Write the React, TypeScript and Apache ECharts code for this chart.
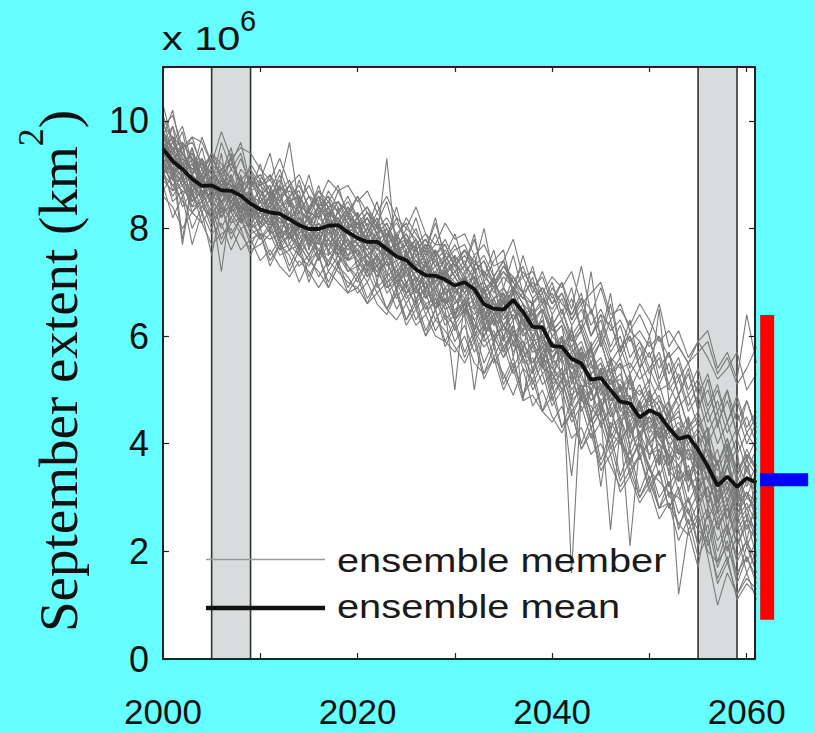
import React, { useEffect, useRef } from "react";
import * as echarts from "echarts";

// Years of the simulation, 2000 through 2061
const years: number[] = [];
for (let y = 2000; y <= 2061; y++) years.push(y);

// September sea-ice extent, ensemble mean (x 10^6 km^2)
const ensembleMean = [
  9.48, 9.25, 9.1, 8.92, 8.79, 8.8, 8.71, 8.7, 8.61, 8.46,
  8.35, 8.3, 8.27, 8.17, 8.06, 7.99, 7.99, 8.05, 8.06, 7.93,
  7.82, 7.75, 7.75, 7.62, 7.48, 7.41, 7.24, 7.13, 7.12, 7.05,
  6.94, 7.0, 6.87, 6.59, 6.51, 6.49, 6.67, 6.45, 6.17, 6.16,
  5.82, 5.8, 5.58, 5.49, 5.19, 5.22, 5.0, 4.78, 4.75, 4.49,
  4.62, 4.54, 4.29, 4.09, 4.14, 3.89, 3.58, 3.22, 3.39, 3.2,
  3.36, 3.28,
];

// Individual ensemble members (x 10^6 km^2)
const ensembleMembers: number[][] = [
  [10.3, 9.6, 9.9, 9.2, 9.0, 9.4, 8.9, 9.3, 8.8, 8.9, 8.6, 9.0, 8.5, 8.8, 8.3, 8.6, 8.2, 8.7, 8.4, 8.1, 8.3, 7.9, 8.2, 7.7, 7.9, 7.5, 7.8, 7.3, 7.6, 7.2, 7.4, 7.1, 7.5, 6.9, 7.0, 6.6, 7.1, 6.8, 6.4, 6.7, 6.2, 6.5, 5.9, 6.1, 5.6, 5.9, 5.3, 5.5, 5.1, 4.9, 5.2, 4.8, 4.6, 4.9, 4.3, 4.5, 3.9, 3.6, 4.1, 3.5, 3.8, 3.6],
  [9.0, 8.8, 8.5, 8.3, 8.6, 8.1, 8.4, 7.9, 8.2, 8.0, 7.8, 8.0, 7.6, 7.7, 7.5, 7.3, 7.6, 7.4, 7.7, 7.2, 7.3, 7.0, 7.4, 6.9, 7.1, 6.7, 6.9, 6.5, 6.8, 6.3, 6.5, 6.6, 6.2, 6.0, 6.3, 5.8, 6.1, 5.7, 5.5, 5.9, 5.2, 5.4, 4.9, 5.1, 4.6, 4.8, 4.3, 4.5, 4.0, 4.2, 3.8, 4.0, 3.5, 3.6, 3.2, 3.4, 2.9, 2.5, 2.8, 2.3, 2.6, 2.4],
  [9.6, 9.3, 7.8, 8.9, 8.5, 9.0, 8.6, 8.9, 8.3, 8.7, 8.1, 8.5, 8.0, 8.6, 7.9, 8.2, 7.7, 8.3, 7.8, 8.0, 7.5, 7.9, 7.4, 7.8, 7.1, 7.6, 7.0, 7.4, 6.8, 7.3, 6.7, 7.2, 6.5, 6.9, 6.2, 6.8, 6.3, 6.6, 5.9, 6.4, 5.5, 6.0, 5.2, 5.8, 4.9, 5.4, 4.7, 5.1, 4.4, 4.8, 4.2, 4.7, 3.9, 4.3, 3.7, 4.0, 3.3, 3.7, 2.9, 3.4, 3.0, 3.5],
  [9.4, 9.1, 9.3, 8.7, 9.0, 8.4, 7.2, 8.5, 8.8, 8.2, 8.5, 8.1, 8.4, 7.9, 8.2, 7.8, 8.3, 7.9, 8.0, 7.7, 7.9, 7.5, 7.7, 7.3, 7.6, 7.1, 7.3, 7.0, 7.2, 6.8, 6.9, 6.7, 7.0, 6.4, 6.6, 6.2, 6.5, 6.1, 6.3, 5.8, 5.9, 5.6, 5.8, 5.3, 5.5, 4.9, 5.2, 4.6, 4.9, 4.3, 4.6, 4.2, 4.4, 3.8, 4.0, 3.6, 3.7, 2.9, 3.3, 2.8, 3.1, 2.7],
  [9.8, 9.4, 9.1, 9.5, 8.9, 9.1, 8.8, 9.0, 8.6, 8.9, 8.7, 8.5, 8.8, 9.6, 8.4, 8.3, 8.6, 8.2, 8.5, 8.1, 8.0, 8.3, 7.9, 8.1, 7.7, 7.8, 7.5, 7.6, 7.3, 7.4, 7.1, 7.3, 6.9, 7.0, 6.7, 6.9, 6.6, 6.8, 6.3, 6.5, 6.0, 6.2, 5.7, 5.9, 5.4, 5.6, 5.1, 5.3, 4.8, 5.0, 4.7, 4.9, 4.4, 4.6, 4.0, 4.3, 3.8, 3.5, 3.9, 3.3, 3.7, 3.4],
  [9.2, 9.5, 9.0, 9.2, 8.7, 8.6, 9.0, 8.5, 8.7, 8.3, 8.4, 8.6, 8.1, 8.3, 7.8, 8.1, 7.9, 8.4, 8.0, 8.3, 7.7, 8.0, 7.8, 9.3, 7.5, 7.7, 7.3, 7.5, 7.0, 7.2, 6.8, 7.1, 6.7, 6.9, 6.4, 6.6, 6.8, 6.2, 6.4, 6.0, 5.7, 5.9, 5.4, 5.6, 5.0, 5.4, 4.8, 5.0, 4.6, 4.7, 4.4, 4.5, 4.1, 4.3, 3.9, 3.8, 3.5, 3.1, 3.6, 3.0, 3.4, 3.1],
  [9.1, 8.9, 8.7, 8.6, 8.3, 7.5, 8.4, 8.2, 8.5, 8.0, 8.2, 7.9, 8.0, 7.6, 7.9, 7.5, 7.8, 7.6, 7.3, 7.7, 7.4, 7.2, 7.5, 7.0, 7.2, 6.9, 6.6, 6.9, 6.5, 6.7, 6.3, 6.6, 6.0, 6.4, 5.9, 6.2, 6.0, 5.6, 5.8, 5.4, 5.3, 5.0, 5.2, 4.8, 4.7, 4.4, 4.6, 4.1, 4.3, 3.8, 4.0, 3.6, 3.9, 3.3, 3.5, 3.0, 3.2, 2.6, 2.9, 2.4, 2.7, 2.2],
  [9.5, 9.2, 9.4, 9.0, 8.8, 8.9, 8.5, 8.7, 8.4, 8.6, 8.3, 8.4, 8.0, 8.2, 7.7, 8.0, 7.8, 8.1, 7.9, 7.6, 7.8, 7.6, 7.3, 7.5, 7.2, 7.4, 7.1, 6.9, 7.0, 6.6, 6.8, 7.0, 6.6, 6.3, 6.5, 6.1, 6.4, 6.2, 5.9, 6.0, 5.5, 5.6, 1.6, 5.0, 5.3, 4.7, 4.9, 4.4, 4.6, 4.2, 4.3, 4.0, 3.8, 3.6, 3.9, 3.2, 3.4, 2.8, 3.1, 2.6, 2.9, 2.5],
  [9.7, 9.3, 9.2, 8.8, 9.1, 8.7, 8.9, 8.6, 8.8, 8.5, 8.7, 8.3, 8.6, 8.2, 8.4, 8.1, 8.3, 8.5, 8.1, 8.4, 8.0, 7.8, 8.1, 7.7, 7.9, 7.6, 7.8, 7.4, 7.6, 7.3, 7.5, 7.2, 7.4, 7.1, 6.9, 7.2, 7.0, 6.8, 6.6, 6.9, 6.4, 6.7, 6.2, 6.5, 6.0, 6.3, 5.7, 6.0, 5.4, 5.8, 5.3, 5.6, 5.0, 5.3, 4.7, 5.1, 4.4, 4.8, 4.2, 4.6, 4.0, 4.4],
  [9.3, 9.6, 9.2, 9.4, 9.1, 9.3, 9.0, 9.2, 8.9, 9.1, 8.8, 9.0, 8.7, 8.9, 8.5, 8.8, 8.4, 8.6, 8.3, 8.5, 8.2, 8.4, 8.0, 8.2, 7.9, 8.1, 7.7, 7.9, 7.5, 7.8, 7.4, 7.6, 7.3, 8.0, 7.1, 7.4, 7.0, 7.3, 6.8, 7.2, 6.7, 7.0, 6.5, 7.3, 6.4, 6.9, 6.3, 6.6, 6.1, 6.4, 6.0, 6.6, 5.8, 6.1, 5.6, 5.9, 6.1, 5.4, 5.7, 5.2, 6.4, 5.5],
  [9.0, 9.2, 8.8, 8.5, 8.7, 8.3, 8.5, 8.1, 8.4, 7.9, 8.0, 8.2, 7.7, 7.9, 7.5, 7.8, 7.4, 7.7, 7.5, 7.2, 7.4, 7.1, 7.3, 6.8, 7.0, 6.6, 6.9, 6.4, 6.7, 6.2, 6.4, 6.6, 6.1, 5.8, 6.0, 5.6, 5.9, 5.4, 5.2, 5.6, 4.9, 5.2, 4.6, 4.9, 4.3, 4.6, 3.9, 4.2, 3.5, 3.8, 3.2, 3.5, 2.8, 3.1, 2.4, 2.7, 1.9, 1.0, 1.6, 1.2, 1.5, 1.3],
  [9.6, 9.1, 9.0, 9.3, 8.6, 8.8, 8.6, 9.4, 8.5, 8.3, 8.6, 8.2, 8.4, 8.0, 8.3, 7.7, 8.1, 7.9, 8.2, 7.8, 7.6, 7.9, 7.5, 7.7, 7.3, 7.5, 7.0, 7.3, 6.9, 7.1, 6.6, 6.9, 6.8, 6.5, 6.7, 6.3, 6.6, 6.0, 6.2, 5.7, 5.9, 5.5, 5.7, 5.2, 5.0, 5.4, 4.6, 4.9, 4.3, 4.7, 4.1, 4.4, 3.7, 4.2, 3.4, 3.8, 3.0, 3.3, 2.6, 3.1, 2.8, 3.0],
  [9.9, 9.0, 9.3, 9.1, 8.9, 8.7, 8.8, 8.5, 8.7, 8.4, 8.2, 8.5, 8.3, 8.0, 8.2, 7.9, 8.1, 7.8, 8.0, 7.9, 7.7, 7.6, 7.9, 7.4, 7.7, 7.2, 7.5, 7.1, 7.3, 6.9, 7.1, 6.8, 7.0, 6.6, 6.4, 6.7, 6.3, 6.5, 6.0, 6.3, 5.6, 5.9, 5.4, 5.7, 5.1, 5.0, 5.3, 4.6, 4.9, 4.1, 4.5, 4.3, 4.0, 3.7, 4.2, 3.5, 3.8, 3.0, 3.6, 2.9, 3.3, 3.1],
  [9.4, 9.0, 8.9, 8.7, 9.0, 8.6, 8.8, 8.4, 8.6, 8.2, 8.4, 8.1, 8.3, 7.8, 8.0, 7.7, 7.9, 8.0, 7.6, 7.8, 7.5, 7.7, 7.4, 7.6, 7.1, 7.3, 6.9, 7.2, 6.7, 6.5, 5.0, 6.7, 6.4, 6.6, 6.2, 6.4, 6.1, 5.8, 6.0, 5.6, 5.4, 5.7, 5.3, 5.0, 5.2, 4.8, 5.0, 4.5, 4.7, 4.3, 4.4, 4.1, 4.3, 3.9, 3.7, 3.8, 3.3, 2.9, 3.2, 2.7, 3.0, 2.8],
  [9.2, 9.4, 9.1, 8.8, 8.6, 8.9, 8.7, 8.3, 8.5, 8.1, 8.3, 8.0, 8.2, 7.9, 7.6, 7.9, 7.7, 7.8, 7.5, 7.7, 7.4, 7.5, 7.2, 7.4, 7.0, 7.2, 6.8, 7.0, 6.6, 6.9, 6.7, 6.4, 5.0, 6.2, 6.4, 6.0, 6.3, 4.8, 5.9, 5.5, 5.6, 5.3, 5.5, 5.1, 4.8, 5.0, 4.5, 4.7, 4.2, 4.4, 4.0, 4.2, 3.6, 3.9, 3.4, 3.1, 3.5, 2.7, 3.0, 2.5, 2.8, 2.3],
  [9.5, 9.7, 9.2, 9.0, 9.2, 8.9, 8.6, 8.8, 8.7, 8.6, 8.5, 8.7, 8.4, 8.5, 8.1, 8.3, 8.2, 8.0, 8.3, 8.0, 8.1, 7.8, 7.6, 7.9, 7.6, 7.7, 7.4, 7.3, 7.5, 7.0, 7.2, 7.3, 7.1, 6.8, 7.0, 6.7, 6.9, 6.6, 6.4, 6.6, 6.1, 6.3, 5.9, 6.2, 5.7, 6.0, 5.5, 5.8, 5.3, 5.6, 5.1, 6.5, 4.8, 5.2, 4.6, 4.9, 4.2, 4.6, 3.9, 4.3, 3.7, 4.1],
  [9.3, 8.9, 9.1, 8.6, 8.4, 8.7, 8.3, 8.6, 8.2, 8.4, 8.0, 8.2, 7.8, 8.1, 7.7, 7.9, 7.5, 7.8, 7.6, 7.4, 7.6, 7.3, 7.5, 7.1, 7.3, 6.8, 7.1, 6.7, 6.9, 6.5, 6.6, 6.8, 6.3, 6.5, 6.0, 6.2, 5.9, 6.1, 5.7, 5.8, 5.4, 5.2, 5.5, 4.8, 5.0, 4.5, 2.4, 4.3, 2.1, 4.0, 3.8, 3.9, 3.5, 3.3, 3.6, 2.9, 3.2, 2.4, 2.8, 2.1, 2.5, 2.2],
  [9.6, 9.4, 9.0, 9.2, 8.8, 8.5, 8.9, 8.6, 8.3, 8.5, 8.4, 8.1, 8.5, 8.3, 7.9, 8.1, 7.9, 8.2, 7.7, 8.0, 7.9, 7.6, 7.8, 7.5, 7.6, 7.3, 7.4, 7.1, 7.2, 7.0, 6.9, 7.1, 6.8, 6.7, 6.5, 6.6, 6.7, 6.3, 6.1, 6.2, 5.8, 5.7, 5.6, 5.4, 5.5, 5.1, 5.2, 4.8, 4.6, 4.4, 4.5, 4.1, 3.8, 1.2, 2.4, 1.7, 2.8, 2.0, 2.5, 1.8, 2.2, 1.6],
  [9.4, 9.3, 8.9, 9.0, 8.5, 8.7, 8.9, 8.8, 8.4, 8.3, 8.5, 8.4, 8.1, 8.3, 8.0, 8.2, 7.8, 8.1, 7.8, 8.2, 7.9, 7.8, 7.6, 7.8, 7.4, 7.5, 7.3, 7.4, 6.9, 7.2, 7.0, 6.9, 7.1, 6.7, 6.5, 6.8, 6.5, 6.3, 6.4, 6.1, 5.8, 6.0, 5.5, 5.8, 5.3, 5.5, 5.1, 5.2, 4.8, 5.1, 4.6, 4.8, 4.4, 4.5, 4.2, 4.4, 4.0, 3.6, 4.1, 3.4, 3.9, 3.5],
  [9.1, 9.0, 9.2, 8.8, 8.9, 8.7, 8.5, 8.6, 8.7, 8.4, 8.1, 8.3, 8.2, 7.9, 8.1, 8.0, 7.8, 8.0, 8.2, 7.7, 7.8, 8.0, 7.6, 7.5, 7.8, 7.2, 7.4, 7.2, 7.0, 7.3, 6.8, 7.0, 6.6, 6.8, 6.6, 6.4, 6.8, 6.3, 6.0, 6.3, 5.7, 5.9, 5.8, 5.4, 5.3, 5.5, 4.9, 5.1, 4.7, 4.6, 4.8, 4.4, 4.5, 4.0, 4.3, 3.7, 3.9, 3.3, 3.7, 3.1, 3.5, 3.2],
  [9.7, 10.2, 9.3, 9.1, 9.3, 9.0, 9.1, 9.2, 9.6, 8.8, 8.9, 8.6, 8.8, 8.5, 8.6, 8.2, 8.4, 8.3, 8.1, 8.4, 8.0, 8.2, 7.9, 8.0, 7.7, 7.9, 7.5, 7.7, 7.3, 7.5, 7.2, 7.4, 7.0, 7.2, 6.8, 7.1, 6.9, 6.7, 6.6, 6.8, 6.2, 6.5, 6.0, 6.3, 5.8, 6.1, 5.6, 5.4, 5.5, 5.2, 5.4, 5.0, 5.1, 4.7, 4.9, 4.3, 4.6, 4.0, 4.4, 3.8, 4.2, 3.9],
  [8.9, 8.7, 8.8, 8.4, 8.5, 8.2, 8.4, 8.3, 8.0, 8.1, 7.9, 7.8, 7.9, 7.6, 7.7, 7.4, 7.6, 7.5, 7.7, 7.3, 7.1, 7.4, 7.2, 6.9, 7.0, 6.8, 6.9, 6.6, 6.7, 6.4, 6.2, 6.5, 6.3, 5.9, 6.1, 5.7, 6.2, 5.6, 5.3, 5.7, 5.1, 5.3, 4.8, 5.0, 4.4, 4.7, 4.2, 4.0, 3.7, 4.0, 3.5, 3.3, 3.1, 3.0, 2.7, 2.4, 2.2, 1.5, 1.9, 1.1, 1.4, 1.2],
  [9.8, 9.5, 9.4, 9.1, 9.2, 8.8, 8.7, 8.9, 8.6, 8.7, 8.3, 8.6, 8.4, 8.2, 8.3, 8.2, 8.0, 8.3, 8.1, 8.0, 8.2, 7.7, 7.8, 7.6, 7.5, 7.6, 7.2, 7.6, 7.1, 7.2, 7.3, 6.9, 6.9, 7.0, 6.6, 6.5, 6.9, 6.4, 6.3, 6.5, 6.0, 5.8, 6.1, 5.6, 5.7, 5.3, 5.4, 5.0, 5.2, 4.6, 4.9, 4.7, 4.2, 4.4, 4.0, 4.2, 3.5, 3.9, 3.1, 3.7, 3.2, 3.6],
  [9.2, 9.1, 8.6, 8.9, 8.7, 8.5, 8.3, 8.4, 8.5, 8.6, 8.2, 8.3, 7.9, 8.0, 8.2, 7.8, 8.0, 7.7, 7.9, 7.6, 7.7, 7.5, 7.7, 7.3, 7.4, 7.0, 7.2, 6.9, 7.1, 6.8, 6.9, 6.6, 6.8, 6.3, 6.7, 6.2, 6.4, 6.0, 6.2, 5.9, 5.6, 5.8, 5.4, 5.5, 5.1, 5.3, 4.8, 4.9, 4.5, 4.7, 4.3, 4.5, 4.0, 4.1, 3.8, 3.4, 3.6, 3.1, 3.3, 2.7, 3.1, 2.9],
  [10.0, 9.4, 9.8, 9.0, 9.5, 8.8, 9.6, 9.1, 9.4, 8.7, 9.2, 8.5, 9.0, 8.4, 8.9, 8.3, 8.8, 8.2, 8.7, 8.3, 8.6, 8.0, 8.5, 7.8, 8.4, 7.7, 8.2, 7.6, 8.1, 7.5, 7.9, 7.3, 7.8, 7.1, 7.6, 6.9, 7.5, 6.8, 7.3, 6.6, 7.0, 6.4, 6.9, 6.1, 7.2, 5.9, 6.6, 5.7, 6.3, 5.4, 6.0, 5.2, 5.7, 4.9, 5.4, 4.6, 5.2, 4.3, 5.0, 4.1, 4.8, 4.2],
  [8.8, 8.2, 8.6, 7.7, 8.3, 7.9, 8.1, 7.6, 8.0, 7.5, 7.9, 7.3, 7.7, 7.2, 7.6, 7.0, 7.5, 6.9, 7.3, 6.8, 7.1, 6.6, 7.0, 6.5, 6.8, 6.3, 6.6, 6.0, 6.5, 5.8, 6.2, 5.6, 6.0, 5.3, 5.8, 5.1, 5.5, 4.9, 5.2, 4.6, 4.9, 4.3, 4.6, 3.9, 4.3, 3.6, 4.0, 3.3, 3.7, 3.0, 3.4, 2.8, 3.1, 2.5, 2.8, 2.1, 2.5, 1.7, 2.2, 1.4, 1.9, 1.5],
  [9.3, 9.9, 8.9, 9.5, 8.6, 9.2, 8.4, 9.0, 8.2, 8.8, 8.0, 8.7, 7.8, 8.5, 7.6, 8.4, 7.4, 8.2, 7.3, 8.1, 7.2, 7.9, 7.0, 7.8, 6.8, 7.6, 6.6, 7.4, 6.5, 7.2, 6.3, 7.1, 6.1, 6.9, 5.8, 6.7, 5.6, 6.5, 5.3, 6.2, 5.1, 6.0, 4.8, 5.7, 4.5, 5.4, 4.2, 5.1, 3.9, 4.8, 3.7, 4.6, 3.4, 4.3, 3.1, 4.0, 2.8, 3.7, 2.4, 3.3, 2.2, 3.0],
  [9.9, 9.7, 9.5, 9.6, 9.2, 9.3, 9.0, 8.6, 9.1, 8.9, 8.8, 8.9, 8.6, 8.7, 8.5, 8.2, 8.6, 8.4, 8.5, 8.2, 8.1, 8.3, 8.0, 7.9, 8.1, 7.8, 7.6, 7.8, 7.5, 7.7, 7.3, 7.6, 7.4, 7.2, 7.0, 7.3, 7.1, 6.8, 7.0, 6.7, 6.5, 6.8, 6.3, 6.6, 6.0, 6.4, 5.8, 6.2, 5.6, 5.9, 5.4, 5.7, 5.1, 5.5, 4.9, 5.2, 4.6, 5.0, 4.4, 4.8, 4.2, 4.5],
  [8.7, 9.0, 8.4, 8.7, 8.1, 8.4, 7.8, 8.2, 7.9, 7.6, 7.7, 7.9, 7.5, 7.6, 7.3, 7.5, 7.1, 7.4, 7.2, 7.0, 6.9, 7.2, 6.8, 7.0, 6.5, 6.8, 6.3, 6.6, 6.1, 6.4, 5.9, 6.2, 5.7, 6.0, 5.5, 5.8, 5.3, 5.6, 5.0, 5.3, 4.7, 5.0, 4.4, 4.7, 4.1, 4.4, 3.8, 4.1, 3.4, 3.8, 3.1, 3.5, 2.8, 3.2, 2.5, 2.9, 2.1, 2.6, 1.8, 2.3, 1.6, 2.0],
  [9.5, 8.9, 9.6, 8.6, 9.3, 8.5, 9.4, 8.3, 9.0, 8.2, 8.9, 7.9, 8.8, 7.8, 8.6, 7.6, 8.5, 7.5, 8.4, 7.4, 8.3, 7.2, 8.1, 7.1, 7.9, 6.9, 7.7, 6.8, 7.6, 6.6, 7.5, 6.4, 7.3, 6.2, 7.1, 5.9, 6.9, 5.7, 6.7, 5.4, 6.4, 5.1, 6.2, 4.8, 5.9, 4.5, 5.6, 4.2, 5.3, 3.9, 5.0, 3.6, 4.8, 3.3, 4.5, 3.0, 4.2, 2.7, 4.0, 2.4, 3.8, 2.6],
  [9.0, 9.5, 9.2, 8.5, 8.9, 9.3, 8.2, 8.7, 8.9, 8.0, 8.6, 8.8, 7.9, 8.3, 8.5, 7.6, 8.2, 8.4, 7.5, 8.0, 8.2, 7.3, 7.8, 7.9, 7.0, 7.5, 7.7, 6.7, 7.2, 7.4, 6.4, 7.0, 7.1, 6.1, 6.7, 6.8, 5.8, 6.4, 6.5, 5.5, 6.0, 6.2, 5.1, 5.6, 5.8, 4.6, 5.2, 5.5, 4.1, 4.8, 5.1, 3.7, 4.4, 4.7, 3.3, 4.0, 4.3, 2.9, 3.6, 3.9, 2.6, 3.3],
  [9.4, 9.6, 9.3, 9.1, 9.2, 9.0, 8.8, 9.1, 8.9, 8.7, 8.8, 8.6, 8.9, 8.5, 8.3, 8.6, 8.4, 8.2, 8.5, 8.3, 8.0, 8.2, 7.9, 8.1, 7.7, 7.9, 7.6, 7.8, 7.4, 7.6, 7.3, 7.5, 7.2, 7.4, 7.0, 7.2, 6.9, 7.1, 6.7, 6.9, 6.6, 6.8, 6.4, 6.7, 6.2, 6.5, 6.1, 6.3, 5.9, 6.1, 5.8, 6.0, 5.6, 5.8, 5.5, 5.7, 5.9, 5.3, 5.6, 5.1, 5.4, 5.8],
  [9.6, 9.0, 9.2, 8.9, 8.3, 8.6, 8.5, 8.8, 8.1, 8.4, 8.0, 8.3, 7.7, 8.1, 7.8, 7.5, 7.9, 7.3, 7.7, 7.4, 7.6, 7.1, 7.5, 7.2, 6.9, 7.3, 6.8, 7.0, 6.5, 6.9, 6.3, 6.6, 6.5, 6.0, 6.4, 5.7, 6.1, 5.9, 5.5, 5.8, 5.3, 5.6, 5.0, 5.3, 4.8, 5.1, 4.5, 4.9, 4.2, 4.5, 4.0, 4.3, 3.6, 4.0, 3.3, 3.7, 2.9, 3.4, 2.6, 3.0, 2.4, 2.8],
  [9.8, 9.2, 9.6, 9.3, 8.9, 9.1, 8.8, 8.9, 8.5, 9.0, 8.7, 8.4, 8.8, 8.5, 8.1, 8.4, 8.6, 8.0, 8.3, 8.1, 7.9, 8.2, 7.7, 8.0, 7.5, 7.8, 7.3, 7.7, 7.4, 7.1, 7.4, 7.0, 7.3, 6.8, 7.1, 6.5, 6.9, 6.6, 6.2, 6.5, 6.1, 6.3, 5.8, 6.1, 5.5, 5.9, 5.3, 5.6, 5.0, 5.4, 4.8, 5.1, 4.5, 4.9, 4.3, 4.6, 4.0, 4.4, 3.7, 4.1, 3.5, 3.9],
  [9.2, 8.8, 9.0, 8.4, 8.8, 8.5, 8.0, 8.4, 8.1, 8.3, 7.8, 8.1, 7.6, 7.9, 7.7, 7.4, 7.8, 7.2, 7.5, 7.3, 7.0, 7.4, 6.9, 7.1, 6.7, 7.0, 6.5, 6.8, 6.3, 6.6, 6.1, 6.4, 5.9, 6.2, 5.6, 6.0, 5.4, 5.8, 5.1, 5.5, 4.8, 5.2, 4.5, 4.9, 4.3, 4.6, 4.0, 4.4, 3.6, 4.1, 3.3, 3.8, 3.0, 3.5, 2.7, 3.1, 2.3, 2.8, 2.0, 2.5, 1.8, 2.2],
  [9.5, 9.1, 7.7, 8.8, 8.6, 8.9, 8.4, 8.7, 8.3, 8.5, 8.2, 8.4, 8.0, 7.8, 8.1, 7.7, 7.9, 7.6, 7.8, 7.5, 7.6, 7.4, 7.1, 7.5, 7.2, 6.9, 7.1, 6.7, 6.9, 6.6, 6.7, 6.4, 6.6, 6.1, 6.3, 5.9, 6.2, 5.6, 5.9, 5.3, 5.5, 5.0, 5.3, 4.6, 5.0, 4.3, 4.7, 4.0, 4.4, 3.7, 4.1, 3.4, 3.8, 3.1, 3.5, 2.8, 3.2, 2.4, 2.9, 2.1, 2.6, 1.9],
  [10.1, 9.6, 9.4, 9.7, 9.1, 9.4, 9.2, 8.9, 9.3, 8.8, 9.0, 8.7, 9.1, 8.6, 8.8, 8.4, 8.7, 8.5, 8.3, 8.6, 8.2, 8.4, 8.1, 7.8, 8.2, 7.7, 8.0, 7.5, 7.9, 7.4, 7.6, 7.7, 7.3, 7.5, 7.1, 7.4, 6.8, 7.2, 6.9, 6.6, 6.8, 6.3, 6.7, 6.1, 6.5, 5.8, 6.3, 5.6, 6.0, 5.4, 5.7, 5.1, 5.5, 4.9, 5.3, 4.7, 5.0, 4.4, 4.8, 4.2, 4.5, 4.0],
  [9.0, 8.6, 8.9, 8.3, 8.5, 8.0, 8.4, 7.8, 8.2, 7.7, 8.0, 7.5, 7.8, 7.3, 7.7, 7.1, 7.5, 7.0, 7.4, 6.9, 7.2, 6.7, 7.0, 6.5, 6.9, 6.3, 6.7, 6.1, 6.5, 5.9, 6.3, 5.7, 6.1, 5.5, 5.9, 5.2, 5.6, 4.9, 5.4, 4.6, 5.1, 4.3, 4.8, 4.0, 4.5, 3.7, 4.2, 3.4, 3.9, 3.1, 3.6, 2.8, 3.3, 2.4, 3.0, 2.1, 2.7, 1.8, 2.4, 1.5, 2.1, 1.6],
  [9.7, 9.3, 9.5, 9.0, 9.3, 8.7, 9.1, 8.8, 8.6, 8.9, 8.5, 8.7, 8.3, 8.6, 8.2, 8.0, 8.4, 8.1, 8.2, 7.9, 8.1, 7.7, 7.9, 7.5, 7.8, 7.3, 7.6, 7.2, 7.4, 7.0, 7.2, 6.9, 7.1, 6.7, 6.9, 6.4, 6.7, 6.2, 6.5, 6.0, 6.3, 5.7, 6.1, 5.5, 5.8, 5.2, 5.6, 5.0, 5.3, 4.7, 5.0, 4.5, 4.8, 4.2, 4.5, 3.9, 4.3, 3.6, 4.0, 3.4, 3.8, 3.5],
  [9.3, 9.1, 8.8, 9.0, 8.7, 8.2, 8.6, 8.8, 8.4, 8.2, 8.3, 8.0, 8.2, 7.9, 8.0, 7.8, 7.6, 7.9, 7.7, 7.5, 7.7, 7.5, 7.3, 7.6, 7.1, 7.3, 6.9, 7.1, 6.8, 6.6, 6.9, 6.5, 6.7, 6.3, 6.5, 6.2, 6.0, 6.3, 5.8, 6.0, 5.6, 5.8, 5.3, 5.5, 5.1, 5.3, 4.8, 5.0, 4.6, 4.2, 4.5, 4.1, 4.2, 3.8, 3.9, 3.5, 3.6, 3.2, 3.4, 2.9, 3.1, 2.6],
  [9.9, 10.1, 9.5, 9.7, 9.6, 9.2, 9.8, 9.3, 9.5, 9.4, 9.1, 8.9, 9.3, 8.8, 9.0, 8.6, 8.5, 8.9, 8.7, 8.8, 8.5, 8.7, 8.3, 8.6, 8.2, 8.0, 8.4, 7.9, 7.7, 8.1, 7.8, 7.9, 7.5, 7.7, 7.3, 7.4, 7.8, 7.1, 7.2, 6.8, 7.1, 6.9, 7.2, 6.6, 6.8, 7.0, 6.4, 6.5, 6.2, 6.6, 6.3, 5.9, 6.1, 5.8, 5.5, 5.9, 5.6, 5.2, 5.4, 5.7, 5.0, 5.3],
  [8.6, 8.4, 8.0, 8.3, 8.1, 7.7, 7.9, 8.0, 7.6, 7.8, 7.4, 7.6, 7.3, 7.1, 7.4, 7.2, 6.9, 7.2, 7.0, 6.8, 6.9, 6.6, 6.8, 6.5, 6.3, 6.6, 6.2, 6.4, 6.0, 5.9, 5.7, 6.0, 5.5, 5.3, 5.6, 5.0, 5.4, 4.8, 4.9, 4.6, 4.4, 4.7, 4.1, 4.3, 3.8, 4.0, 3.6, 3.2, 3.5, 3.0, 3.3, 2.8, 2.9, 2.5, 2.3, 2.6, 2.0, 1.8, 2.1, 1.6, 1.9, 1.4],
  [9.6, 9.9, 9.4, 9.0, 9.7, 9.2, 9.0, 9.5, 8.7, 9.2, 8.9, 9.4, 8.6, 8.8, 8.4, 9.0, 8.3, 8.5, 8.8, 8.2, 8.6, 8.3, 8.1, 8.5, 7.8, 8.2, 7.9, 7.6, 8.2, 7.4, 7.7, 7.3, 7.9, 7.0, 7.4, 7.6, 6.8, 7.5, 6.9, 7.1, 6.6, 7.0, 6.3, 6.7, 6.5, 6.0, 6.8, 5.7, 6.1, 5.9, 5.6, 6.0, 5.3, 5.6, 5.0, 5.4, 4.7, 5.1, 4.4, 4.9, 4.3, 4.6],
  [9.1, 8.5, 8.7, 8.0, 8.4, 8.2, 7.7, 8.1, 8.2, 7.8, 7.9, 7.4, 7.7, 7.5, 7.0, 7.4, 7.2, 6.9, 7.3, 7.1, 6.8, 7.0, 6.6, 6.4, 6.8, 6.2, 6.5, 6.0, 6.3, 6.1, 5.8, 5.5, 5.9, 5.2, 5.6, 5.3, 4.9, 5.4, 4.7, 5.0, 4.5, 4.2, 4.6, 3.9, 4.2, 3.5, 3.8, 3.1, 3.4, 2.9, 3.2, 2.6, 2.9, 2.2, 2.6, 1.9, 2.3, 1.4, 1.8, 1.2, 1.6, 1.1],
  [9.4, 9.7, 9.1, 9.4, 8.8, 9.3, 9.0, 8.6, 8.9, 9.1, 8.6, 8.8, 8.4, 8.6, 8.7, 8.1, 8.4, 8.6, 7.9, 8.3, 7.9, 8.1, 7.6, 7.9, 7.7, 7.3, 7.6, 7.4, 7.0, 7.5, 7.1, 6.8, 7.2, 6.7, 6.3, 6.9, 6.5, 6.1, 6.6, 5.9, 6.2, 5.6, 6.0, 5.4, 5.8, 5.0, 5.5, 4.7, 5.2, 4.4, 4.9, 4.1, 4.6, 3.8, 4.4, 3.5, 4.1, 3.2, 3.8, 2.9, 3.6, 3.1],
  [9.0, 9.3, 8.9, 8.6, 8.9, 8.4, 8.7, 8.5, 8.1, 8.6, 8.3, 8.0, 8.4, 7.7, 8.1, 7.9, 7.5, 8.0, 7.6, 7.8, 7.3, 7.5, 7.1, 7.4, 6.9, 7.2, 6.7, 6.9, 6.5, 6.8, 6.4, 6.7, 6.1, 6.5, 5.9, 6.2, 5.7, 5.9, 5.4, 5.7, 5.0, 5.4, 4.7, 5.1, 4.4, 4.8, 4.1, 4.5, 3.8, 4.2, 3.5, 3.9, 3.2, 3.6, 2.9, 3.3, 2.6, 3.0, 2.3, 2.7, 2.1, 2.5],
  [9.7, 9.5, 9.6, 9.3, 9.0, 9.4, 9.1, 9.3, 8.8, 8.9, 9.0, 8.7, 8.5, 8.8, 8.6, 8.3, 8.7, 8.4, 8.1, 8.4, 8.2, 7.9, 8.3, 8.0, 7.6, 8.0, 7.8, 7.5, 7.7, 7.7, 7.3, 7.6, 7.2, 7.4, 6.9, 7.3, 7.0, 6.7, 7.1, 6.4, 6.9, 6.6, 6.4, 6.8, 6.0, 6.4, 6.2, 5.8, 6.0, 5.6, 5.9, 5.4, 5.7, 5.2, 5.5, 4.9, 5.3, 4.6, 5.0, 4.4, 4.8, 4.3],
  [9.3, 8.7, 9.0, 8.5, 8.7, 8.6, 8.2, 8.5, 8.3, 8.0, 8.1, 8.3, 7.8, 8.0, 7.6, 7.9, 7.6, 7.3, 7.8, 7.4, 7.5, 7.2, 7.3, 7.0, 7.1, 6.8, 7.0, 6.5, 6.6, 6.7, 6.3, 6.5, 6.0, 6.2, 6.0, 5.6, 6.1, 5.5, 5.6, 5.1, 5.3, 4.9, 3.4, 5.0, 4.6, 3.2, 4.4, 4.1, 3.7, 4.0, 3.6, 3.0, 3.3, 2.7, 3.0, 2.5, 2.8, 2.2, 2.5, 1.9, 2.2, 1.8],
];

// Periods highlighted with grey shading
const shadedPeriods: [number, number][] = [
  [2005, 2009],
  [2055, 2059],
];

// Tick labels shown on the axes
const xTickLabels = [2000, 2020, 2040, 2060];
const yTickLabels = [0, 2, 4, 6, 8, 10];

// Observed range (red) and central estimate (blue), plotted just right of the axes
const observedRange = { year: 2062.1, low: 0.73, high: 6.39, central: 3.33 };

const BG = "#66ffff";
const SANS = "'Liberation Sans', Arial, Helvetica, sans-serif";
const SERIF = "'Liberation Serif', 'Times New Roman', serif";

function textWidth(text: string, font: string): number {
  const ctx = document.createElement("canvas").getContext("2d");
  if (!ctx) return text.length * 20;
  ctx.font = font;
  return ctx.measureText(text).width;
}

export default function App() {
  const ref = useRef<HTMLDivElement>(null);

  useEffect(() => {
    if (!ref.current) return;
    const chart = echarts.init(ref.current, undefined, { renderer: "svg" });

    const toPairs = (vals: number[]) => vals.map((v, i) => [years[i], v]);

    const memberSeries = ensembleMembers.map((vals) => ({
      type: "line" as const,
      name: "ensemble member",
      data: toPairs(vals),
      showSymbol: false,
      symbol: "none",
      silent: true,
      z: 3,
      lineStyle: { color: "#7a7a7a", width: 1.1 },
    }));

    // y-axis title, drawn rotated with a raised exponent
    const titleFs = 55;
    const supFs = 36;
    const mainTitle = "September extent (km";
    const w1 = textWidth(mainTitle, `${titleFs}px 'Liberation Serif'`);
    const w2 = textWidth("2", `${supFs}px 'Liberation Serif'`);

    const axisCommon = {
      type: "value" as const,
      splitLine: { show: false },
      z: 10,
    };

    chart.setOption({
      animation: false,
      backgroundColor: BG,
      grid: {
        left: 163,
        right: 60,
        top: 67,
        bottom: 74,
        show: true,
        backgroundColor: "#ffffff",
        borderWidth: 0,
      },
      xAxis: [
        {
          ...axisCommon,
          position: "bottom",
          min: 2000,
          max: 2060.85,
          interval: 10,
          axisLine: { show: true, onZero: false, lineStyle: { color: "#222", width: 2 } },
          axisTick: { show: true, inside: true, length: 6, lineStyle: { color: "#222", width: 1.2 } },
          axisLabel: {
            show: true,
            margin: 35,
            fontSize: 35,
            fontFamily: SANS,
            color: "#111",
            showMinLabel: true,
            showMaxLabel: true,
            formatter: (v: number) => (xTickLabels.includes(v) ? String(v) : ""),
          },
        },
        {
          ...axisCommon,
          position: "top",
          min: 2000,
          max: 2060.85,
          interval: 10,
          axisLine: { show: true, onZero: false, lineStyle: { color: "#222", width: 2 } },
          axisTick: { show: true, inside: true, length: 5, lineStyle: { color: "#222", width: 1.2 } },
          axisLabel: { show: false },
        },
      ],
      yAxis: [
        {
          ...axisCommon,
          position: "left",
          min: 0,
          max: 11,
          interval: 2,
          axisLine: { show: true, onZero: false, lineStyle: { color: "#222", width: 2 } },
          axisTick: { show: true, inside: true, length: 6, lineStyle: { color: "#222", width: 1.2 } },
          axisLabel: {
            show: true,
            margin: 14,
            fontSize: 36,
            fontFamily: SANS,
            color: "#111",
            formatter: (v: number) => (yTickLabels.includes(v) ? String(v) : ""),
          },
        },
        {
          ...axisCommon,
          position: "right",
          min: 0,
          max: 11,
          interval: 2,
          axisLine: { show: true, onZero: false, lineStyle: { color: "#222", width: 2 } },
          axisTick: { show: true, inside: true, length: 6, lineStyle: { color: "#222", width: 1.2 } },
          axisLabel: { show: false },
        },
      ],
      series: [
        {
          type: "line",
          name: "shading",
          data: [],
          silent: true,
          z: 1,
          markArea: {
            silent: true,
            itemStyle: { color: "#d9dcdc", borderColor: "#333", borderWidth: 1.6 },
            data: shadedPeriods.map(([a, b]) => [{ xAxis: a }, { xAxis: b }]),
          },
        },
        ...memberSeries,
        {
          type: "line",
          name: "ensemble mean",
          data: toPairs(ensembleMean),
          showSymbol: false,
          symbol: "none",
          silent: true,
          z: 5,
          lineStyle: { color: "#111", width: 3.8 },
        },
        {
          type: "custom",
          name: "observed",
          silent: true,
          clip: false,
          z: 6,
          data: [[observedRange.year, observedRange.low, observedRange.high, observedRange.central]],
          renderItem: (_params: any, api: any) => {
            const top = api.coord([api.value(0), api.value(2)]);
            const bottom = api.coord([api.value(0), api.value(1)]);
            const mid = api.coord([api.value(0), api.value(3)]);
            return {
              type: "group",
              children: [
                {
                  type: "rect",
                  shape: { x: top[0] - 7, y: top[1], width: 14, height: bottom[1] - top[1] },
                  style: { fill: "#ff0000" },
                },
                {
                  type: "rect",
                  shape: { x: top[0] - 7, y: mid[1] - 6.5, width: 48, height: 13 },
                  style: { fill: "#0000ff" },
                },
              ],
            };
          },
        },
      ],
      graphic: [
        // exponent note above the axis
        {
          type: "text",
          x: 162,
          y: 38,
          scaleX: 1.22,
          style: {
            text: "x 10",
            font: `34px ${SANS}`,
            fill: "#111",
            verticalAlign: "middle",
            align: "left",
          },
        },
        {
          type: "text",
          x: 240,
          y: 21,
          style: {
            text: "6",
            font: `29px ${SANS}`,
            fill: "#111",
            verticalAlign: "middle",
            align: "left",
          },
        },
        // rotated y-axis title
        {
          type: "group",
          x: 77,
          y: 632,
          rotation: Math.PI / 2,
          children: [
            {
              type: "text",
              x: 0,
              y: -0.3375 * titleFs,
              style: {
                text: mainTitle,
                font: `${titleFs}px ${SERIF}`,
                fill: "#111",
                align: "left",
                verticalAlign: "middle",
              },
            },
            {
              type: "text",
              x: w1,
              y: -34 - 0.3375 * supFs,
              style: {
                text: "2",
                font: `${supFs}px ${SERIF}`,
                fill: "#111",
                align: "left",
                verticalAlign: "middle",
              },
            },
            {
              type: "text",
              x: w1 + w2,
              y: -0.3375 * titleFs,
              style: {
                text: ")",
                font: `${titleFs}px ${SERIF}`,
                fill: "#111",
                align: "left",
                verticalAlign: "middle",
              },
            },
          ],
        },
        // legend
        {
          type: "line",
          shape: { x1: 206, y1: 559.5, x2: 325, y2: 559.5 },
          style: { stroke: "#9a9a9a", lineWidth: 1.5 },
          z: 20,
        },
        {
          type: "text",
          x: 337,
          y: 561,
          scaleX: 1.17,
          z: 20,
          style: {
            text: "ensemble member",
            font: `34px ${SANS}`,
            fill: "#1a1a1a",
            verticalAlign: "middle",
            align: "left",
          },
        },
        {
          type: "line",
          shape: { x1: 206, y1: 608, x2: 325, y2: 608 },
          style: { stroke: "#111", lineWidth: 4.5 },
          z: 20,
        },
        {
          type: "text",
          x: 337,
          y: 607,
          scaleX: 1.17,
          z: 20,
          style: {
            text: "ensemble mean",
            font: `34px ${SANS}`,
            fill: "#1a1a1a",
            verticalAlign: "middle",
            align: "left",
          },
        },
      ],
    });

    return () => chart.dispose();
  }, []);

  return (
    <div
      style={{
        position: "fixed",
        left: 0,
        top: 0,
        width: 815,
        height: 733,
        background: BG,
      }}
    >
      <div ref={ref} style={{ width: 815, height: 733 }} />
    </div>
  );
}
